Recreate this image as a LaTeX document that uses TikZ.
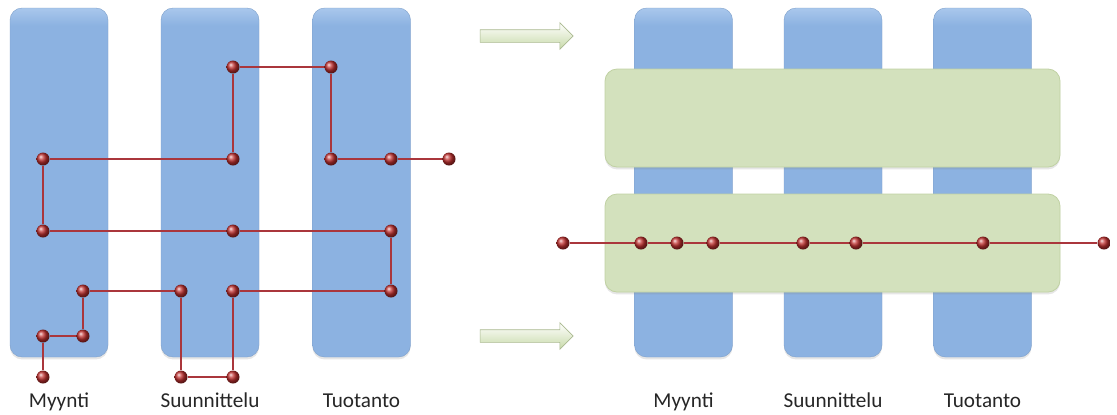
\documentclass[tikz,border=0pt]{standalone}
\usepackage{fontspec}
\setmainfont{Carlito}
\usepackage{tikz}
\usetikzlibrary{positioning}
\usetikzlibrary{shapes.arrows}
\usetikzlibrary{shadows}

\definecolor{barblue}{HTML}{8CB2E1}
\definecolor{barbluelight}{HTML}{A9C7EC}
\definecolor{bargreen}{HTML}{D3E1BD}
\definecolor{bargreenedge}{HTML}{C0D1A3}
\definecolor{dotred}{HTML}{C0302F}
\definecolor{linkred}{HTML}{AA363C}
\definecolor{arrowgreen}{HTML}{C8DAA9}

% mostly flat blue, lighter only near the top edge
\pgfdeclareverticalshading{deptshade}{100bp}{color(0bp)=(barblue); color(25bp)=(barblue); color(72.5bp)=(barblue); color(75bp)=(barbluelight); color(100bp)=(barbluelight)}

\begin{document}
\begin{tikzpicture}
    [
x=0.5pt, y=-0.5pt,
dept/.style={rectangle, rounded corners=6pt, minimum width=49pt, minimum height=174.5pt, shading=deptshade, draw=barblue!90!black, line width=0.2pt, drop shadow={shadow xshift=0pt, shadow yshift=-1.2pt, opacity=0.2}},
stage/.style={rectangle, rounded corners=6pt, minimum width=227.5pt, minimum height=49pt, fill=bargreen, draw=bargreenedge, line width=0.4pt, drop shadow={shadow xshift=0pt, shadow yshift=-1.2pt, opacity=0.2}},
deptname/.style={font=\fontsize{10.6}{12}\selectfont, text=black!85},
dot/.style={circle, inner sep=0pt, minimum size=6.5pt, ball color=dotred},
link/.style={draw=linkred, line width=0.55pt},
flow/.style={single arrow, minimum height=46.5pt, minimum width=13pt, inner sep=3pt, single arrow head extend=3.5pt, top color=white, bottom color=arrowgreen, draw=arrowgreen!85!black, line width=0.3pt}
]
\useasboundingbox (0,0) rectangle (1117,414);

% departments, before
\node[dept](b1) at (59,182.5){};
\node[dept](b2) at (210,182.5){};
\node[dept](b3) at (361.5,182.5){};
\node[deptname](t1)[below=25pt of b1,anchor=base]{Myynti};
\node[deptname](t2)[below=25pt of b2,anchor=base]{Suunnittelu};
\node[deptname](t3)[below=25pt of b3,anchor=base]{Tuotanto};

% route through the departments
\node[dot](s1) at (43,377){};
\node[dot](s2) at (43,336){};
\node[dot](s3) at (83,336){};
\node[dot](s4) at (83,291){};
\node[dot](s5) at (181,291){};
\node[dot](s6) at (181,377){};
\node[dot](s7) at (233,377){};
\node[dot](s8) at (233,291){};
\node[dot](s9) at (391,291){};
\node[dot](s10) at (391,231){};
\node[dot](s11) at (233,231){};
\node[dot](s12) at (43,231){};
\node[dot](s13) at (43,159){};
\node[dot](s14) at (233,159){};
\node[dot](s15) at (233,67){};
\node[dot](s16) at (331,67){};
\node[dot](s17) at (331,159){};
\node[dot](s18) at (391,159){};
\node[dot](s19) at (449,159){};

\draw[link] (s1) -- (s2) -- (s3) -- (s4) -- (s5) -- (s6) -- (s7) -- (s8) -- (s9) -- (s10);
\draw[link] (s10) -- (s11) -- (s12) -- (s13) -- (s14) -- (s15) -- (s16) -- (s17) -- (s18) -- (s19);

% arrows between
\node[flow](arr1) at (523.5,36){};
\node[flow](arr2) at (523.5,336){};

% departments, after
\node[dept](c1) at (683.5,182.5){};
\node[dept](c2) at (833,182.5){};
\node[dept](c3) at (982.5,182.5){};
\node[deptname](u1)[below=25pt of c1,anchor=base]{Myynti};
\node[deptname](u2)[below=25pt of c2,anchor=base]{Suunnittelu};
\node[deptname](u3)[below=25pt of c3,anchor=base]{Tuotanto};

\node[stage](g1) at (832.5,118){};
\node[stage](g2) at (832.5,243){};

% straight route
\node[dot](r1) at (563,243){};
\node[dot](r2) at (641,243){};
\node[dot](r3) at (677,243){};
\node[dot](r4) at (713,243){};
\node[dot](r5) at (803,243){};
\node[dot](r6) at (856,243){};
\node[dot](r7) at (983,243){};
\node[dot](r8) at (1104,243){};

\draw[link] (r1) -- (r2) -- (r3) -- (r4) -- (r5) -- (r6) -- (r7) -- (r8);
\end{tikzpicture}
\end{document}
